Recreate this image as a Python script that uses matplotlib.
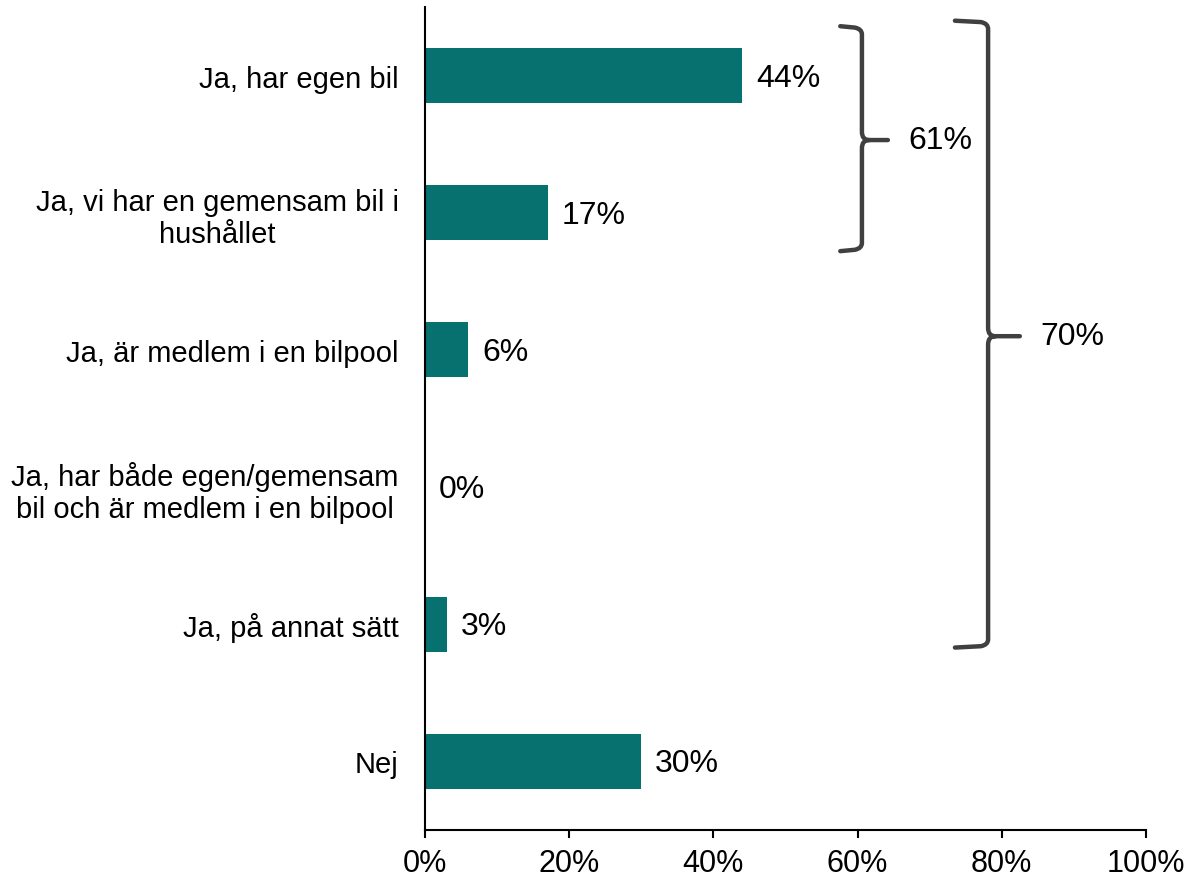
import numpy as np
import matplotlib
matplotlib.use("Agg")
import matplotlib.pyplot as plt
from matplotlib.path import Path
from matplotlib.patches import PathPatch

plt.rcParams["font.family"] = ["Liberation Sans", "DejaVu Sans"]

categories = [
    "Ja, har egen bil",
    "Ja, vi har en gemensam bil i\nhushållet",
    "Ja, är medlem i en bilpool",
    "Ja, har både egen/gemensam\nbil och är medlem i en bilpool",
    "Ja, på annat sätt",
    "Nej",
]
values = [44, 17, 6, 0, 3, 30]
xticks = [0, 20, 40, 60, 80, 100]
xticklabels = ["0%", "20%", "40%", "60%", "80%", "100%"]

# brace groups: (first row, last row, label)
groups = [(0, 1, "61%"), (0, 4, "70%")]

BAR_COLOR = "#07716F"
BRACE_COLOR = "#404040"


def draw_brace(ax, x_line, x_hook, x_tip, y_top, y_bot, y_mid, label, x_text):
    rx, ry = 1.0, 0.06
    verts = [
        (x_hook, y_top), (x_line - rx, y_top + 0.01), (x_line, y_top + 0.02), (x_line, y_top + ry),
        (x_line, y_mid - ry), (x_line, y_mid), (x_line + rx, y_mid), (x_tip, y_mid),
        (x_line + rx, y_mid), (x_line, y_mid), (x_line, y_mid + ry),
        (x_line, y_bot - ry), (x_line, y_bot - 0.02), (x_line - rx, y_bot - 0.01), (x_hook, y_bot),
    ]
    codes = [
        Path.MOVETO, Path.LINETO, Path.CURVE3, Path.CURVE3,
        Path.LINETO, Path.CURVE3, Path.CURVE3, Path.LINETO,
        Path.MOVETO, Path.CURVE3, Path.CURVE3,
        Path.LINETO, Path.CURVE3, Path.CURVE3, Path.LINETO,
    ]
    patch = PathPatch(Path(verts, codes), fill=False, edgecolor=BRACE_COLOR,
                      linewidth=3.2, capstyle="round", joinstyle="round", clip_on=False)
    ax.add_patch(patch)
    ax.text(x_text, y_mid, label, fontsize=23, va="center", ha="left", clip_on=False)


fig = plt.figure(figsize=(11.86, 8.79), dpi=100)
ax = fig.add_axes([425 / 1186, 48 / 879, 721 / 1186, 823 / 879])

y = np.arange(len(categories))
ax.barh(y, values, height=0.4, color=BAR_COLOR)

for yi, v in zip(y, values):
    ax.annotate(f"{v}%", (v, yi), xytext=(10, -1.5), textcoords="offset points",
                fontsize=23, va="center", ha="left")

ax.set_xlim(0, 100)
ax.set_ylim(len(categories) - 0.5, -0.5)
ax.set_xticks(xticks)
ax.set_xticklabels(xticklabels, fontsize=22,
                   family=["Liberation Sans Narrow", "Liberation Sans", "DejaVu Sans"])
ax.set_yticks(y)
ax.set_yticklabels(categories, fontsize=21)
for lab in ax.get_yticklabels():
    lab.set_multialignment("center")

ax.tick_params(axis="y", length=0, pad=19)
ax.tick_params(axis="x", length=6, width=1.5, direction="out", pad=7)
for s in ["top", "right"]:
    ax.spines[s].set_visible(False)
ax.spines["left"].set_linewidth(1.5)
ax.spines["bottom"].set_linewidth(1.5)

# braces (geometry in data units)
draw_brace(ax, 60.6, 57.6, 64.2, -0.36, 1.28, 0.47, groups[0][2], 67.0)
draw_brace(ax, 78.1, 73.5, 82.5, -0.40, 4.17, 1.90, groups[1][2], 85.3)

fig.savefig("out.png", dpi=100)
